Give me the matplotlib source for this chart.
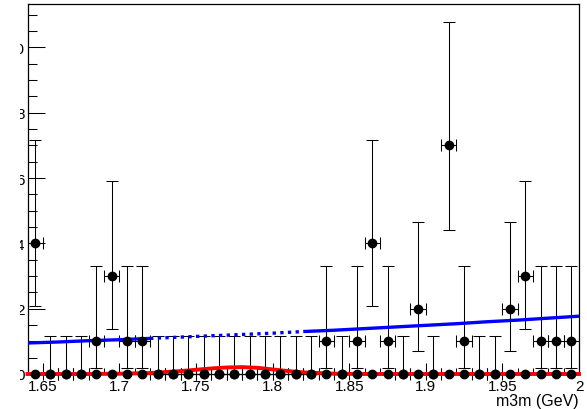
import matplotlib
matplotlib.use("Agg")
import matplotlib.pyplot as plt
import numpy as np
from matplotlib.ticker import MultipleLocator, FixedLocator
from matplotlib.patches import Rectangle

plt.rcParams["font.family"] = ["Liberation Sans", "DejaVu Sans"]

# ---- data -------------------------------------------------------------
bin_low = 1.64
bin_width = 0.01
counts = [4, 0, 0, 0, 1, 3, 1, 1, 0, 0, 0, 0, 0, 0, 0, 0, 0, 0,
          0, 1, 0, 1, 4, 1, 0, 2, 0, 7, 1, 0, 0, 2, 3, 1, 1, 1]

# asymmetric Poisson intervals (lower, upper bound) per observed count
poisson_low = {0: 0.0, 1: 0.17, 2: 0.71, 3: 1.37, 4: 2.09, 7: 4.42}
poisson_high = {0: 1.15, 1: 3.30, 2: 4.64, 3: 5.92, 4: 7.16, 7: 10.77}

# second (empty) sample drawn at zero
empty_counts = [0] * 36

# total fit model (background shape)
model_x = [1.64, 1.66, 1.68, 1.70, 1.72, 1.74, 1.76, 1.78, 1.80, 1.82,
           1.84, 1.86, 1.88, 1.90, 1.92, 1.94, 1.96, 1.98, 2.00]
model_y = [0.95, 0.98, 1.02, 1.05, 1.09, 1.13, 1.17, 1.21, 1.25, 1.30,
           1.34, 1.39, 1.44, 1.49, 1.54, 1.60, 1.65, 1.71, 1.77]
blind_lo, blind_hi = 1.72, 1.82

# signal component
sig_x = [1.64, 1.66, 1.68, 1.70, 1.71, 1.72, 1.73, 1.74, 1.75, 1.76, 1.77,
         1.78, 1.79, 1.80, 1.81, 1.82, 1.83, 1.84, 1.86, 1.90, 1.95, 2.00]
sig_y = [0.0, 0.0, 0.0, 0.01, 0.02, 0.03, 0.06, 0.09, 0.13, 0.17, 0.20,
         0.21, 0.19, 0.14, 0.09, 0.05, 0.03, 0.01, 0.0, 0.0, 0.0, 0.0]

x_ticks = [1.65, 1.70, 1.75, 1.80, 1.85, 1.90, 1.95, 2.00]
x_tick_labels = ["1.65", "1.7", "1.75", "1.8", "1.85", "1.9", "1.95", "2"]
y_ticks = [0, 2, 4, 6, 8, 10]
y_tick_labels = ["0", "2", "4", "6", "8", "10"]

# ---- figure -----------------------------------------------------------
W, H = 587, 410
fig = plt.figure(figsize=(W / 100, H / 100), dpi=100)
ax = fig.add_axes([27.5 / W, 35 / H, (579 - 27.5) / W, (375 - 5) / H])

centers = np.array([bin_low + bin_width * (i + 0.5) for i in range(len(counts))])
vals = np.array(counts, dtype=float)
lo = np.array([v - poisson_low[c] for v, c in zip(vals, counts)])
hi = np.array([poisson_high[c] - v for v, c in zip(vals, counts)])

ms = 6.0
cap = 4.0
elw = 0.75

# data error bars
ax.errorbar(centers, vals, yerr=[lo, hi], xerr=bin_width / 2, fmt="none",
            ecolor="black", elinewidth=elw, capsize=cap, capthick=elw,
            zorder=2, clip_on=False)

# model curve: solid in sidebands, dotted in the blinded window
mx = np.array(model_x)
my = np.array(model_y)
blue = "#0000ff"
m1 = mx <= blind_lo + 1e-9
m2 = (mx >= blind_lo - 1e-9) & (mx <= blind_hi + 1e-9)
m3 = mx >= blind_hi - 1e-9
ax.plot(mx[m1], my[m1], color=blue, lw=2.4, solid_capstyle="butt", zorder=3)
ax.plot(mx[m2], my[m2], color=blue, lw=2.4, ls=(0, (1, 1.3)),
        dash_capstyle="butt", zorder=3)
ax.plot(mx[m3], my[m3], color=blue, lw=2.4, solid_capstyle="butt", zorder=3)

# signal component
ax.plot(sig_x, sig_y, color="#ff0000", lw=2.8, zorder=3, clip_on=False)

# markers on top
ax.plot(centers, empty_counts, "o", color="black", ms=ms, zorder=5, clip_on=False)
ax.plot(centers, vals, "o", color="black", ms=ms, zorder=5, clip_on=False)

# ---- axes -------------------------------------------------------------
ax.set_xlim(1.64, 2.0)
ax.set_ylim(0, 11.33)

ax.xaxis.set_major_locator(FixedLocator(x_ticks))
ax.set_xticklabels(x_tick_labels)
ax.xaxis.set_minor_locator(MultipleLocator(0.01))
ax.yaxis.set_major_locator(FixedLocator(y_ticks))
ax.set_yticklabels(y_tick_labels)
ax.yaxis.set_minor_locator(MultipleLocator(0.5))

ax.tick_params(axis="x", which="major", direction="in", length=8, width=0.75,
               labelsize=11, pad=3.6, top=False)
ax.tick_params(axis="x", which="minor", direction="in", length=4, width=0.75,
               top=False)
ax.tick_params(axis="y", which="major", direction="in", length=12, width=0.75,
               labelsize=11, pad=2.2, right=False)
ax.tick_params(axis="y", which="minor", direction="in", length=6.5, width=0.75,
               right=False)
for s in ax.spines.values():
    s.set_linewidth(0.9)
    s.set_color("black")

fig.text(579 / W, 1 - 402 / H, "m3m (GeV)", ha="right", va="center",
         fontsize=11.5)

# canvas border hides the left part of the y labels
fig.add_artist(Rectangle((0, 0), 20 / W, 1, transform=fig.transFigure,
                         facecolor="white", edgecolor="none", zorder=10))

fig.savefig("out.png", dpi=100)
